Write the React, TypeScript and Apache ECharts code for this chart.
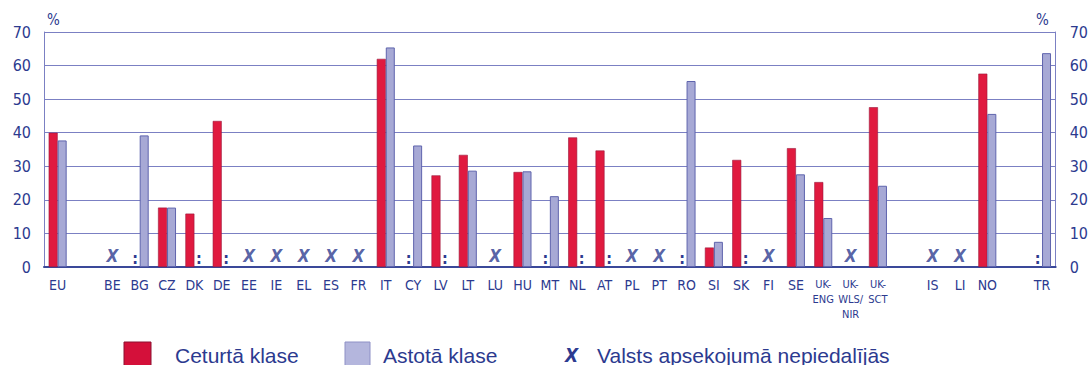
import React, { useEffect, useRef } from "react";
import * as echarts from "echarts";

const categories = [
  "EU", "", "BE", "BG", "CZ", "DK", "DE", "EE", "IE", "EL", "ES", "FR", "IT", "CY", "LV", "LT", "LU",
  "HU", "MT", "NL", "AT", "PL", "PT", "RO", "SI", "SK", "FI", "SE", "UK-\nENG", "UK-\nWLS/\nNIR",
  "UK-\nSCT", " ", "IS", "LI", "NO", "  ", "TR",
];

// ":" = data not available, null = no bar
const grade4: (number | string | null)[] = [
  40.0, null, null, ":", 17.7, 15.9, 43.5, null, null, null, null, null, 62.0, ":", 27.3, 33.4, null,
  28.3, ":", 38.6, 34.7, null, null, ":", 5.8, 31.9, null, 35.4, 25.3, null,
  47.6, null, null, null, 57.6, null, ":",
];

const grade8: (number | string | null)[] = [
  37.7, null, null, 39.2, 17.7, ":", ":", null, null, null, null, null, 65.4, 36.2, ":", 28.7, null,
  28.5, 21.1, ":", ":", null, null, 55.4, 7.5, ":", null, 27.6, 14.6, null,
  24.2, null, null, null, 45.6, null, 63.7,
];

const notParticipating = [
  "BE", "EE", "IE", "EL", "ES", "FR", "LU", "PL", "PT", "FI", "UK-\nWLS/\nNIR", "IS", "LI",
];

const yTicks = { min: 0, max: 70, interval: 10 };

const seriesNames = ["Ceturtā klase", "Astotā klase"];
const notParticipatingLabel = "Valsts apsekojumā nepiedalījās";

const BLUE = "#2c3a8f";
const GRID = "#7b80c3";
const RED = "#e01a3f";
const LAV = "#a7a9d5";
const NARROW = "'Liberation Sans Narrow', 'DejaVu Sans Condensed', sans-serif";

function toBarData(arr: (number | string | null)[]) {
  return arr.map((v) => {
    if (v === ":") {
      return {
        value: 0,
        itemStyle: { color: "transparent", borderWidth: 0 },
        label: {
          show: true,
          position: "top",
          distance: 1,
          formatter: ":",
          color: BLUE,
          fontSize: 16,
          fontWeight: "bold",
          fontFamily: NARROW,
        },
      };
    }
    return v;
  });
}

export default function App() {
  const ref = useRef<HTMLDivElement>(null);
  useEffect(() => {
    if (!ref.current) return;
    const chart = echarts.init(ref.current, null, { renderer: "svg" });
    const xData = notParticipating.map((c) => [categories.indexOf(c), 0]);
    chart.setOption({
      animation: false,
      grid: { left: 44, right: 34, top: 32, bottom: 98, containLabel: false },
      xAxis: {
        type: "category",
        data: categories,
        axisTick: { show: false },
        axisLine: { lineStyle: { color: "#3a4899", width: 2 } },
        axisLabel: {
          interval: 0,
          color: BLUE,
          fontSize: 14,
          lineHeight: 15,
          margin: 10,
          fontFamily: NARROW,
          formatter: (v: string) => (v.startsWith("UK") ? `{s|${v}}` : v),
          rich: {
            s: { fontSize: 11, lineHeight: 15, color: BLUE, fontFamily: NARROW },
          },
        },
      },
      yAxis: [
        {
          type: "value",
          ...yTicks,
          position: "left",
          axisLine: { show: true, lineStyle: { color: GRID, width: 1 } },
          axisTick: { show: false },
          splitLine: { lineStyle: { color: GRID, width: 1 } },
          axisLabel: { color: BLUE, fontSize: 16, margin: 13, fontFamily: NARROW },
        },
        {
          type: "value",
          ...yTicks,
          position: "right",
          axisLine: { show: true, lineStyle: { color: GRID, width: 1 } },
          axisTick: { show: false },
          splitLine: { show: false },
          axisLabel: { color: BLUE, fontSize: 16, margin: 14, fontFamily: NARROW },
        },
      ],
      series: [
        {
          name: seriesNames[0],
          type: "bar",
          data: toBarData(grade4),
          barWidth: 9,
          barGap: "0%",
          itemStyle: { color: RED, borderColor: "#9a1a3c", borderWidth: 0.6 },
        },
        {
          name: seriesNames[1],
          type: "bar",
          data: toBarData(grade8),
          barWidth: 9,
          barGap: "0%",
          itemStyle: { color: LAV, borderColor: "#5f64ad", borderWidth: 1 },
        },
        {
          name: "x",
          type: "scatter",
          data: xData,
          symbol: "circle",
          symbolSize: 1,
          itemStyle: { color: "transparent" },
          label: {
            show: true,
            position: "top",
            distance: 2,
            formatter: "X",
            color: BLUE,
            fontSize: 17,
            fontWeight: "bold",
            fontStyle: "italic",
            fontFamily: "'DejaVu Sans Condensed', sans-serif",
          },
        },
      ],
      graphic: [
        { type: "text", left: 47, top: 12, style: { text: "%", fill: BLUE, fontSize: 15, fontFamily: NARROW } },
        { type: "text", left: 1036, top: 12, style: { text: "%", fill: BLUE, fontSize: 15, fontFamily: NARROW } },
        { type: "rect", shape: { x: 124, y: 342, width: 27, height: 26 }, style: { fill: "#d4103a", stroke: "#8c1030", lineWidth: 1 } },
        { type: "text", x: 175, y: 355, style: { text: seriesNames[0], fill: BLUE, fontSize: 21, fontFamily: "'Liberation Sans', Arial, sans-serif", verticalAlign: "middle" } },
        { type: "rect", shape: { x: 345, y: 342, width: 25, height: 26 }, style: { fill: "#b4b6dd", stroke: "#8e90c6", lineWidth: 1 } },
        { type: "text", x: 383, y: 355, style: { text: seriesNames[1], fill: BLUE, fontSize: 21, fontFamily: "'Liberation Sans', Arial, sans-serif", verticalAlign: "middle" } },
        { type: "text", x: 565, y: 355, style: { text: "X", fill: BLUE, fontSize: 19, fontWeight: "bold", fontStyle: "italic", fontFamily: "'DejaVu Sans Condensed', sans-serif", verticalAlign: "middle" } },
        { type: "text", x: 597, y: 355, style: { text: notParticipatingLabel, fill: BLUE, fontSize: 21, fontFamily: "'Liberation Sans', Arial, sans-serif", verticalAlign: "middle" } },
      ],
    });
    return () => chart.dispose();
  }, []);
  return (
    <div
      ref={ref}
      style={{ position: "fixed", left: 0, top: 0, width: 1091, height: 365, background: "#fff" }}
    />
  );
}
